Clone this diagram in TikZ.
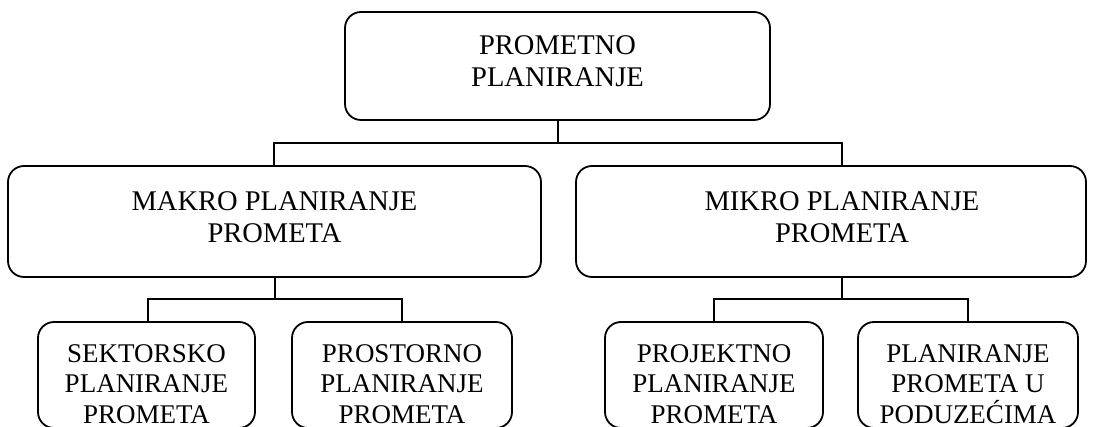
\documentclass[tikz,border=0pt]{standalone}
\usepackage{fontspec}
\setmainfont{Liberation Serif}
\begin{document}
\begin{tikzpicture}[x=1pt,y=-1pt,
  box/.style={draw, line width=1.8pt, rounded corners=16pt, rectangle, inner sep=0pt},
  lbl/.style={align=center, font=\fontsize{28.5}{32}\selectfont, inner sep=0pt},
  slbl/.style={align=center, font=\fontsize{27}{30.5}\selectfont, inner sep=0pt},
  conn/.style={line width=2pt}]
\useasboundingbox (0,0) rectangle (1095,427);
% boxes
\node[box, minimum width=425pt, minimum height=108pt] (top) at (557.5,66) {};
\node[box, minimum width=533pt, minimum height=111pt] (makro) at (274.5,221.5) {};
\node[box, minimum width=510pt, minimum height=111pt] (mikro) at (831,221.5) {};
\node[box, minimum width=217pt, minimum height=106pt] (sek) at (146.5,375) {};
\node[box, minimum width=220pt, minimum height=106pt] (pro) at (402,375) {};
\node[box, minimum width=218pt, minimum height=106pt] (prj) at (714,375) {};
\node[box, minimum width=220pt, minimum height=106pt] (pod) at (968,375) {};
% texts
\node[lbl] (ttop) at (557.5,61) {PROMETNO\\PLANIRANJE};
\node[lbl] (tmakro) at (274.5,217) {MAKRO PLANIRANJE\\PROMETA};
\node[lbl] (tmikro) at (842,217) {MIKRO PLANIRANJE\\PROMETA};
\node[slbl] (tsek) at (146.5,384) {SEKTORSKO\\PLANIRANJE\\PROMETA};
\node[slbl] (tpro) at (402,384) {PROSTORNO\\PLANIRANJE\\PROMETA};
\node[slbl] (tprj) at (714,384) {PROJEKTNO\\PLANIRANJE\\PROMETA};
\node[slbl] (tpod) at (968,384) {PLANIRANJE\\PROMETA U\\PODUZEĆIMA};
% junction coordinates
\coordinate (hl) at (274,143);
\coordinate (hr) at (842,143);
\coordinate (ml) at (148,299);
\coordinate (mr) at (402,299);
\coordinate (rl) at (714,299);
\coordinate (rr) at (968,299);
\coordinate (mstem) at (842,299);
% connectors
\draw[conn] (top.south) -- (top.south |- hl);
\draw[conn] (hl |- makro.north) -- (hl) -- (hr) -- (hr |- mikro.north);
\draw[conn] (makro.south) -- (makro.south |- ml);
\draw[conn] (ml |- sek.north) -- (ml) -- (mr) -- (mr |- pro.north);
\draw[conn] (mstem |- mikro.south) -- (mstem);
\draw[conn] (rl |- prj.north) -- (rl) -- (rr) -- (rr |- pod.north);
\end{tikzpicture}
\end{document}
